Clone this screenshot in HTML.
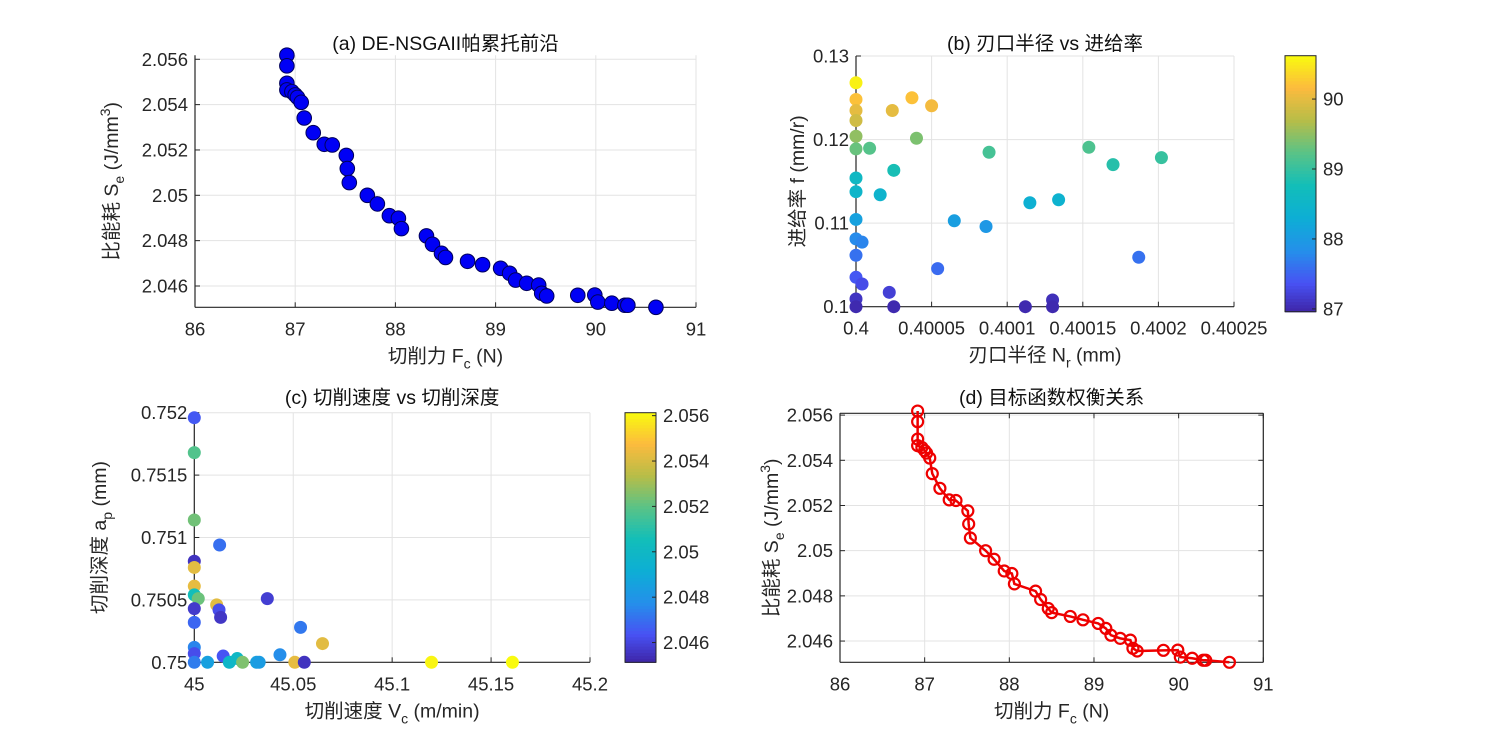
<!DOCTYPE html>
<html><head><meta charset="utf-8"><style>
html,body{margin:0;padding:0;background:#fff;}
svg{display:block;font-family:"Liberation Sans","Noto Sans CJK SC",sans-serif;}
</style></head><body>
<svg id="fig" width="1500" height="750" viewBox="0 0 1500 750"></svg>
<script>
// Pareto front data (Fc, Se)
const paretoFc = [86.917,86.917,86.917,86.917,86.967,87.0,87.023,87.06,87.09,87.18,87.29,87.37,87.51,87.52,87.54,87.72,87.82,87.94,88.03,88.06,88.31,88.37,88.46,88.5,88.72,88.87,89.05,89.14,89.2,89.31,89.43,89.46,89.51,89.82,89.99,90.02,90.16,90.29,90.32,90.6];
const paretoSe = [2.05618,2.05571,2.05494,2.05465,2.05457,2.05443,2.05432,2.0541,2.05341,2.05276,2.05225,2.05222,2.05176,2.05118,2.05056,2.05,2.04962,2.0491,2.04899,2.04853,2.04821,2.04784,2.04744,2.04726,2.04709,2.04694,2.04678,2.04656,2.04626,2.04612,2.04604,2.04568,2.04556,2.04559,2.0456,2.04529,2.04524,2.04515,2.04515,2.04506];
// panel b data
const bNr = [0.4,0.4,0.4,0.4,0.400024,0.400037,0.40005,0.4,0.40004,0.4,0.400009,0.400088,0.400154,0.40017,0.400202,0.400025,0.4,0.4,0.400016,0.400115,0.400134,0.4,0.400065,0.400086,0.4,0.400004,0.4,0.400187,0.400054,0.4,0.400004,0.400022,0.4,0.4,0.400025,0.400112,0.40013,0.40013];
const bF = [0.1268,0.1248,0.12348,0.12228,0.12348,0.125,0.12404,0.1204,0.12016,0.11888,0.11896,0.11848,0.11908,0.117,0.11784,0.11632,0.1154,0.11376,0.1134,0.11244,0.1128,0.11044,0.11028,0.1096,0.10812,0.10772,0.10616,0.10592,0.10456,0.10352,0.10272,0.10172,0.10092,0.1,0.1,0.1,0.1008,0.1];
const bC = [90.55,90.2,90.0,89.85,90.0,90.2,90.1,89.5,89.4,89.3,89.2,89.1,89.15,88.9,89.0,88.8,88.6,88.5,88.45,88.35,88.4,88.1,88.05,87.95,87.8,87.75,87.6,87.6,87.55,87.4,87.3,87.2,87.1,87.0,87.0,87.0,87.05,87.0];
// panel c data
const cVc = [45,45,45,45.0128,45,45,45,45,45.002,45.0113,45.0125,45.0133,45.0369,45,45,45.0537,45.0648,45,45,45,45.0067,45.0146,45.0177,45.0217,45.0244,45.0315,45.0328,45.0433,45.0508,45.0556,45.1199,45.1608];
const cAp = [0.75196,0.75168,0.75114,0.75094,0.75081,0.75076,0.75061,0.75054,0.75051,0.75046,0.75042,0.75036,0.75051,0.75043,0.75032,0.75028,0.75015,0.75012,0.75007,0.75,0.75,0.75005,0.75,0.75003,0.75,0.75,0.75,0.75006,0.75,0.75,0.75,0.75];
const cC = [2.0465,2.0518,2.0523,2.047,2.0455,2.0542,2.0543,2.0505,2.0522,2.0542,2.0462,2.0456,2.0458,2.0457,2.0468,2.0472,2.0542,2.0475,2.0462,2.0473,2.0485,2.0464,2.0498,2.05,2.0525,2.0485,2.0483,2.0477,2.0543,2.0455,2.056,2.0561];
// ticks
const aXTicks = [86,87,88,89,90,91];
const aXLabels = ["86","87","88","89","90","91"];
const seTicks = [2.046,2.048,2.05,2.052,2.054,2.056];
const seLabels = ["2.046","2.048","2.05","2.052","2.054","2.056"];
const bXTicks = [0.4,0.40005,0.4001,0.40015,0.4002,0.40025];
const bXLabels = ["0.4","0.40005","0.4001","0.40015","0.4002","0.40025"];
const bYTicks = [0.1,0.11,0.12,0.13];
const bYLabels = ["0.1","0.11","0.12","0.13"];
const bCTicks = [87,88,89,90];
const bCLabels = ["87","88","89","90"];
const cXTicks = [45,45.05,45.1,45.15,45.2];
const cXLabels = ["45","45.05","45.1","45.15","45.2"];
const cYTicks = [0.75,0.7505,0.751,0.7515,0.752];
const cYLabels = ["0.75","0.7505","0.751","0.7515","0.752"];

const NS="http://www.w3.org/2000/svg";
const svg=document.getElementById('fig');
function mk(tag,attrs,parent){const e=document.createElementNS(NS,tag);for(const k in attrs)e.setAttribute(k,attrs[k]);(parent||svg).appendChild(e);return e;}
function lin(d0,d1,r0,r1){return v=>r0+(v-d0)/(d1-d0)*(r1-r0);}
const stopT=[0,0.111,0.238,0.365,0.492,0.619,0.746,0.873,1];
const stops=[[62,38,168],[72,82,244],[36,144,234],[13,174,213],[18,190,185],[89,195,135],[183,189,72],[252,187,62],[249,251,14]];
function parula(t){t=Math.max(0,Math.min(1,t));let i=0;while(i<stopT.length-2&&t>stopT[i+1])i++;const f=(t-stopT[i])/(stopT[i+1]-stopT[i]);const a=stops[i],b=stops[i+1];return `rgb(${Math.round(a[0]+(b[0]-a[0])*f)},${Math.round(a[1]+(b[1]-a[1])*f)},${Math.round(a[2]+(b[2]-a[2])*f)})`;}
const TC='#262626';
const TICKFS=18.5, TITLEFS=19.5, LABFS=19.5;

function axes(P){
  const g=mk('g',{});
  
  
  const sx=lin(P.xd[0],P.xd[1],P.x0,P.x1), sy=lin(P.yd[0],P.yd[1],P.y0,P.y1);
  P.sx=sx;P.sy=sy;
  const gr=mk('g',{},g);
  
  
  P.xt.forEach(v=>mk('line',{x1:sx(v),x2:sx(v),y1:P.y0,y2:P.y1,stroke:'#e3e3e3','stroke-width':1},gr));
  P.yt.forEach(v=>mk('line',{x1:P.x0,x2:P.x1,y1:sy(v),y2:sy(v),stroke:'#e3e3e3','stroke-width':1},gr));
  const xa=mk('g',{},g);
  
  
  mk('line',{x1:P.x0,x2:P.x1,y1:P.y0,y2:P.y0,stroke:TC,'stroke-width':1.2},xa);
  P.xt.forEach((v,i)=>{mk('line',{x1:sx(v),x2:sx(v),y1:P.y0,y2:P.y0-5,stroke:TC},xa);
    if(P.box)mk('line',{x1:sx(v),x2:sx(v),y1:P.y1,y2:P.y1+5,stroke:TC},xa);
    const t=mk('text',{x:sx(v),y:P.y0+28,'text-anchor':'middle','font-size':TICKFS,fill:TC},xa);t.textContent=P.xl[i];
    
    });
  const ya=mk('g',{},g);
  
  
  mk('line',{x1:P.x0,x2:P.x0,y1:P.y0,y2:P.y1,stroke:TC,'stroke-width':1.2},ya);
  P.yt.forEach((v,i)=>{mk('line',{x1:P.x0,x2:P.x0+5,y1:sy(v),y2:sy(v),stroke:TC},ya);
    if(P.box)mk('line',{x1:P.x1,x2:P.x1-5,y1:sy(v),y2:sy(v),stroke:TC},ya);
    const t=mk('text',{x:P.x0-7,y:sy(v)+6.5,'text-anchor':'end','font-size':TICKFS,fill:TC},ya);t.textContent=P.yl[i];
    
    });
  if(P.box){mk('line',{x1:P.x0,x2:P.x1,y1:P.y1,y2:P.y1,stroke:TC,'stroke-width':1.2},g);mk('line',{x1:P.x1,x2:P.x1,y1:P.y0,y2:P.y1,stroke:TC,'stroke-width':1.2},g);}
  const ti=mk('text',{x:(P.x0+P.x1)/2,y:P.ty,'text-anchor':'middle','font-size':TITLEFS,fill:'#111'},g);ti.textContent=P.title;
  
  
  const xl=mk('text',{x:(P.x0+P.x1)/2,y:P.y0+55,'text-anchor':'middle','font-size':LABFS,fill:TC},g);xl.innerHTML=P.xlab;
  
  
  const cy=(P.y0+P.y1)/2;
  const yl=mk('text',{x:P.ylx,y:cy,'text-anchor':'middle','font-size':LABFS,fill:TC,transform:`rotate(-90 ${P.ylx} ${cy})`},g);yl.innerHTML=P.ylab;
  
  
  return g;
}
function colorbar(name,x,y0,y1,d0,d1,ticks,labels){
  const g=mk('g',{});
  
  
  const sy=lin(d0,d1,y0,y1);const n=80;const h=(y0-y1)/n;
  for(let i=0;i<n;i++)mk('rect',{x:x,y:y1+i*h,width:31,height:h+0.6,fill:parula(1-(i+0.5)/n)},g);
  mk('rect',{x:x,y:y1,width:31,height:y0-y1,fill:'none',stroke:TC,'stroke-width':1},g);
  ticks.forEach((v,i)=>{mk('line',{x1:x+31,x2:x+27,y1:sy(v),y2:sy(v),stroke:TC},g);
    const t=mk('text',{x:x+38,y:sy(v)+6.5,'font-size':TICKFS,fill:TC},g);t.textContent=labels[i];
    
    });
}
const seLab='比能耗 S<tspan font-size="14" dy="6">e</tspan><tspan dy="-6"> (J/mm</tspan><tspan font-size="14" dy="-8">3</tspan><tspan dy="8">)</tspan>';
const fcLab='切削力 F<tspan font-size="14" dy="6">c</tspan><tspan dy="-6"> (N)</tspan>';
const SEmin=Math.min(...paretoSe), SEmax=Math.max(...paretoSe);

// Panel A
const A={name:'panel-a',x0:195,x1:696,y0:307.3,y1:55.2,xd:[86,91],yd:[SEmin,SEmax],xt:aXTicks,xl:aXLabels,yt:seTicks,yl:seLabels,box:false,ty:50,title:'(a) DE-NSGAII帕累托前沿',xlab:fcLab,ylab:seLab,ylx:118};
axes(A);
paretoFc.forEach((v,i)=>{const c=mk('circle',{cx:A.sx(v),cy:A.sy(paretoSe[i]),r:7.3,fill:'#0000f5',stroke:'#00005a','stroke-width':1});
  
  });

// Panel B
const B={name:'panel-b',x0:856,x1:1234,y0:306.7,y1:56,xd:[0.4,0.40025],yd:[0.1,0.13],xt:bXTicks,xl:bXLabels,yt:bYTicks,yl:bYLabels,box:false,ty:50,title:'(b) 刃口半径 vs 进给率',xlab:'刃口半径 N<tspan font-size="14" dy="6">r</tspan><tspan dy="-6"> (mm)</tspan>',ylab:'进给率 f (mm/r)',ylx:804};
axes(B);
const bMin=86.96,bMax=90.62;
bNr.forEach((v,i)=>{const c=mk('circle',{cx:B.sx(v),cy:B.sy(bF[i]),r:6.5,fill:parula((bC[i]-bMin)/(bMax-bMin))});
  
  });
colorbar('colorbar-b',1285,311.7,55.7,bMin,bMax,bCTicks,bCLabels);

// Panel C
const C={name:'panel-c',x0:194.3,x1:590,y0:662.3,y1:412.7,xd:[45,45.2],yd:[0.75,0.752],xt:cXTicks,xl:cXLabels,yt:cYTicks,yl:cYLabels,box:false,ty:404,title:'(c) 切削速度 vs 切削深度',xlab:'切削速度 V<tspan font-size="14" dy="6">c</tspan><tspan dy="-6"> (m/min)</tspan>',ylab:'切削深度 a<tspan font-size="14" dy="6">p</tspan><tspan dy="-6"> (mm)</tspan>',ylx:106};
axes(C);
cVc.forEach((v,i)=>{const c=mk('circle',{cx:C.sx(v),cy:C.sy(cAp[i]),r:6.5,fill:parula((cC[i]-2.04513)/(2.05613-2.04513))});
  
  });
colorbar('colorbar-c',625,662.3,412.7,2.04513,2.05613,seTicks,seLabels);

// Panel D
const D={name:'panel-d',x0:840,x1:1263.3,y0:662.3,y1:413.3,xd:[86,91],yd:[SEmin,2.05608],xt:aXTicks,xl:aXLabels,yt:seTicks,yl:seLabels,box:true,ty:404,title:'(d) 目标函数权衡关系',xlab:fcLab,ylab:seLab,ylx:778};
axes(D);
const ord=paretoFc.map((v,i)=>i).sort((a,b)=>paretoFc[a]-paretoFc[b]||paretoSe[b]-paretoSe[a]);
const pl=mk('polyline',{points:ord.map(i=>D.sx(paretoFc[i])+','+D.sy(paretoSe[i])).join(' '),fill:'none',stroke:'#ee0000','stroke-width':2.5});


paretoFc.forEach((v,i)=>{const c=mk('circle',{cx:D.sx(v),cy:D.sy(paretoSe[i]),r:5.5,fill:'none',stroke:'#ee0000','stroke-width':2.2});
  
  });
</script>
</body></html>
